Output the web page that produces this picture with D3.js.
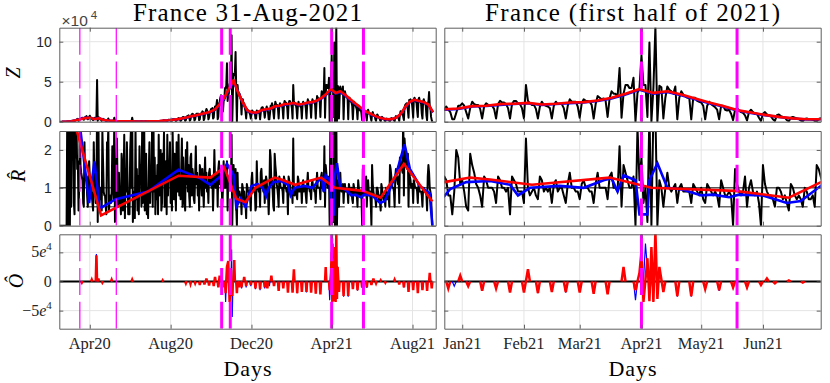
<!DOCTYPE html>
<html><head><meta charset="utf-8">
<script src="https://cdn.jsdelivr.net/npm/d3@7/dist/d3.min.js"></script>
<style>body{margin:0;background:#fff}svg{display:block}</style>
</head><body><svg id="c" width="830" height="383"></svg>
<script>
// ---------------- DATA ----------------
const dailyStart = "2020-02-16"; // first day of daily series (Sunday)
// Daily Z (x1e4), one row per week Sun..Sat
const zDaily = [
0,0,0,0,0,0,0,
0,0,0,0,0.01,0.02,0.03,
0.03,0.02,0.05,0.04,0.08,0.1,0.12,
0.1,0.05,0.15,0.2,0.28,0.3,0.35,
0.1,0.15,0.3,0.35,0.4,0.45,0.5,
0.3,0.25,0.5,0.55,0.6,0.7,0.5,
0.3,0.4,0.6,0.75,0.55,0.5,0.4,
0.3,0.2,0.4,0.45,0.5,0.3,0.35,
5.2,0.1,0.6,0.4,0.3,0.3,0.25,
0.1,0.2,0.35,0.3,0.25,0.2,0.1,
0.05,0.1,0.2,0.4,0.15,0.1,0.08,
0.05,0.05,0.1,0.15,0.1,0.5,0.05,
0.02,0.05,0.08,0.1,0.06,0.05,0.03,
0.02,0.03,0.05,0.06,0.05,0.04,0.02,
0.02,0.03,0.05,0.04,0.05,0.04,0.02,
0.01,0.02,0.05,0.05,0.5,0.04,0.02,
0.01,0.02,0.04,0.05,0.04,0.03,0.02,
0.01,0.02,0.04,0.04,0.05,0.03,0.02,
0.01,0.02,0.04,0.05,0.04,0.04,0.02,
0.02,0.02,0.05,0.06,0.05,0.05,0.03,
0.02,0.03,0.06,0.07,0.06,0.06,0.04,
0.02,0.03,0.08,0.09,0.08,0.09,0.05,
0.03,0.05,0.15,0.18,0.16,0.15,0.1,
0.04,0.07,0.2,0.25,0.22,0.22,0.15,
0.05,0.1,0.28,0.32,0.3,0.3,0.2,
0.06,0.12,0.35,0.4,0.45,0.4,0.3,
0.08,0.15,0.45,0.55,0.6,0.55,0.4,
0.1,0.2,0.6,0.7,0.7,0.8,0.6,
0.12,0.25,0.8,0.9,1.0,0.9,0.8,
0.15,0.3,0.8,1.0,1.0,1.0,1.0,
0.2,0.3,1.0,1.0,1.1,1.3,1.2,
0.2,0.4,1.0,1.3,1.6,1.4,1.2,
0.3,0.5,1.1,1.3,1.6,1.6,1.7,
0.4,0.5,1.5,1.9,1.8,2.0,2.7,
0.3,0.6,2.2,2.5,3.0,3.3,3.2,
1.2,1.3,2.6,2.7,4.2,4.2,4.5,
7.3,2.6,3.3,3.6,4.7,4.9,4.9,
10.8,0.0,3.6,6.0,5.8,6.1,8.7,
3.9,0.0,4.6,3.5,3.3,3.5,3.2,
2.7,0.9,2.8,2.8,2.2,2.3,1.7,
1.3,0.4,1.6,1.5,1.3,1.3,1.1,
0.9,0.4,0.9,1.4,1.3,1.2,1.1,
1.1,0.4,0.4,1.4,1.3,1.3,1.1,
1.1,0.3,1.1,1.7,1.8,1.8,1.5,
1.3,0.5,1.2,1.6,1.9,1.5,1.2,
0.3,0.3,1.1,2.0,2.0,2.3,2.0,
1.2,0.4,1.7,2.5,2.2,2.1,2.1,
1.6,0.4,1.9,2.3,2.1,2.1,2.0,
1.6,0.4,2.2,2.6,2.4,2.4,2.2,
1.7,0.4,2.2,2.6,2.6,2.3,2.2,
1.7,0.4,4.6,2.6,2.3,2.1,2.1,
1.6,0.4,1.9,2.5,2.1,2.0,1.9,
1.7,0.4,2.0,2.5,2.2,2.2,2.2,
1.7,0.4,2.0,2.8,2.5,2.5,2.5,
1.9,0.5,2.3,2.8,2.6,2.6,2.5,
2.1,0.4,2.2,3.2,3.0,2.8,2.9,
2.6,0.6,2.9,3.8,3.5,3.5,3.1,
6.7,0.5,3.5,4.6,4.6,4.2,4.2,
5.5,0.0,3.6,4.2,8.3,4.6,4.6,
0.6,9.9,0.0,4.2,11.9,0.0,4.5,
4.3,0.4,3.0,4.4,4.0,3.8,3.5,
4.4,0.3,3.0,3.8,3.4,3.2,3.0,
3.0,0.3,3.0,3.0,2.6,2.5,2.4,
2.0,0.3,2.0,2.5,2.2,2.0,1.8,
1.5,0.3,2.0,2.0,1.5,1.4,1.5,
1.0,0.2,1.5,1.7,1.4,1.2,1.1,
0.8,0.15,1.2,1.5,1.2,1.0,1.0,
0.5,0.1,1.0,1.2,0.9,0.8,0.7,
0.3,0.1,0.8,0.9,0.7,0.6,0.5,
0.2,0.05,0.5,0.6,0.5,0.4,0.35,
0.15,0.05,0.35,0.4,0.3,0.3,0.25,
0.1,0.05,0.35,0.45,0.4,0.35,0.35,
0.2,0.05,0.5,0.7,0.6,0.6,0.6,
0.4,0.1,0.9,1.3,1.2,1.0,1.0,
0.6,0.2,1.8,2.1,2.2,2.3,2.2,
1.4,0.5,2.7,2.6,2.8,2.5,2.4,
1.6,0.5,2.8,3.0,2.8,2.5,2.4,
1.4,0.6,2.8,3.0,2.6,2.5,2.2,
1.0,0.4,2.5,2.8,2.5,2.3,2.0,
0.8,0.2,2.4,2.4,3.7,2.0,1.8,
0.6,0.2,0.0
];
// Daily R-hat (black), one row per week Sun..Sat
const rDaily = [
0,0,0,0,0,0,0,
0,0,0,0,3,0,3,
1.3,0,3,0.5,3,2,3,
0.6,0.3,3,1.8,2.6,1.5,1.7,
0.4,1.0,3,1.6,1.4,1.3,1.2,
0.6,0.5,2.2,1.2,1.2,1.3,0.8,
0.5,1.2,1.7,1.3,0.8,0.9,0.8,
0.6,0.4,2.2,1.2,1.1,0.6,1.1,
3,0.1,3,0.7,0.7,1.0,0.8,
0.4,2.5,1.7,0.9,0.8,0.8,0.5,
0.3,2.2,2.0,2.6,0.4,0.7,0.8,
0.6,0.9,2.1,1.4,0.7,3,0.1,
0.2,1.2,2.3,0.9,0.5,1.4,0.6,
0.7,0.3,1.9,1.6,0.4,1.1,2.4,
0.2,1.5,0.9,2.2,1.2,0.3,0.8,
0.3,2.0,2.5,1.0,3,0.1,0.5,
0.9,0.2,2.6,0.7,1.5,0.4,1.3,
0.3,2.1,1.1,1.6,0.5,2.5,0.6,
0.8,3,0.4,1.2,1.9,0.3,1.0,
0.2,1.4,2.2,0.6,1.5,0.9,2.6,
0.5,3,0.9,1.8,0.3,1.3,0.7,
1.6,0.3,2.4,0.8,1.4,2.0,0.4,
0.6,1.9,1.2,2.5,0.5,1.1,1.7,
0.3,2.4,0.8,1.6,1.3,2.2,0.6,
1.1,0.4,2.5,1.4,0.7,1.9,1.0,
0.4,2.2,1.6,0.9,2.4,0.8,1.3,
0.7,1.5,2.3,0.5,1.8,1.2,0.6,
0.4,2.0,1.1,2.2,0.9,1.6,0.8,
0.5,1.8,1.9,0.8,1.5,1.3,0.7,
0.6,1.3,2.1,1.1,1.4,0.8,1.2,
0.4,1.6,1.5,1.2,0.8,1.5,1.0,
0.5,1.2,1.8,1.0,1.4,0.9,1.1,
0.6,1.4,1.5,1.1,1.2,1.0,1.3,
0.4,1.1,2.0,1.2,1.0,1.3,1.4,
0.5,1.5,1.7,1.1,1.3,1.0,1.1,
0.5,1.0,1.7,1.0,1.5,1.0,1.1,
1.7,0.4,1.3,1.1,1.3,1.0,1.0,
2.4,0.0,1.2,1.6,1.1,1.1,1.5,
0.5,0.0,1.4,0.7,0.8,0.9,0.8,
0.8,0.3,1.1,1.0,0.7,0.9,0.6,
0.6,0.2,1.1,1.0,0.9,0.9,0.8,
0.7,0.4,1.2,1.4,1.0,0.9,0.9,
1.0,0.4,0.5,1.7,1.0,1.0,0.9,
1.0,0.5,1.4,1.5,1.1,1.0,0.9,
1.2,0.6,1.1,1.3,1.2,0.8,0.8,
0.3,0.9,2.0,1.8,1.1,1.2,0.9,
0.5,0.4,1.9,1.6,1.4,1.1,1.0,
0.8,0.5,1.3,1.2,1.0,1.0,1.0,
0.9,0.6,1.3,1.2,1.0,1.0,0.9,
1.0,0.3,1.3,1.2,1.1,0.9,0.9,
0.9,0.6,2.3,1.0,0.8,0.9,1.0,
0.8,0.7,1.3,1.2,0.9,1.0,0.9,
1.0,0.6,1.1,1.2,0.9,1.0,1.0,
0.8,0.6,1.1,1.4,1.0,1.0,0.9,
0.9,0.7,1.1,1.2,1.0,1.0,0.9,
0.9,0.6,1.1,1.4,1.0,1.0,1.0,
1.0,0.7,1.3,1.4,1.0,1.0,0.9,
2.1,0.5,1.6,1.4,1.2,1.0,1.0,
1.3,0.0,2.6,1.2,1.8,0.6,1.0,
0.1,3,0.0,3,3,0.0,1.2,
1.0,0.5,1.0,1.4,1.0,0.9,1.0,
1.1,0.6,1.0,1.1,0.9,0.9,0.9,
0.9,0.6,1.1,1.0,0.9,0.8,1.0,
0.7,0.6,1.1,1.0,0.9,0.8,0.9,
0.8,0.5,1.2,1.0,0.8,0.8,0.9,
0.8,0.0,1.5,1.1,0.9,0.8,0.9,
1.3,0.5,1.0,1.2,0.9,0.8,0.9,
0.6,0.0,1.6,1.1,0.9,0.8,0.8,
0.7,0.5,1.0,1.0,0.9,0.7,0.8,
0.6,0.4,1.1,1.0,0.8,0.7,0.8,
0.7,0.5,1.0,0.9,0.7,0.7,0.8,
0.5,1.6,1.5,1.3,1.1,1.0,1.0,
0.9,0.5,1.3,1.5,1.3,1.2,1.1,
1.3,0.6,1.8,1.7,1.5,1.5,1.4,
3,0.8,2.3,2.0,1.8,1.6,1.5,
1.9,0.5,1.5,1.3,1.2,1.0,1.0,
1.1,0.6,1.2,1.1,1.0,1.0,1.0,
0.9,0.6,1.1,1.0,0.9,0.9,0.9,
0.8,0.5,1.0,1.0,0.9,0.9,0.9,
0.8,0.4,1.3,1.6,1.4,1.0,0.9,
0.8,0.3,0.0
];
// Weekly smoothed Z (x1e4), red and blue estimates, first value on this date
const weeklyStart = "2020-02-19";
const zRedWeekly = [0,0.01,0.05,0.18,0.32,0.45,0.48,0.33,0.42,0.22,0.15,0.12,0.06,0.04,0.04,0.06,0.03,0.03,0.03,0.04,
0.05,0.07,0.13,0.18,0.25,0.32,0.42,0.55,0.7,0.8,0.95,1.1,1.25,1.55,2.2,3.0,4.1,5.2,3.6,2.4,
1.4,1.15,1.15,1.45,1.55,1.65,1.95,2.0,2.2,2.25,2.35,2.15,2.25,2.4,2.45,2.65,3.0,3.5,4.1,3.6,
3.8,3.4,2.9,2.4,1.95,1.45,1.15,0.85,0.6,0.42,0.3,0.32,0.5,0.95,1.85,2.5,2.75,2.6,2.45,2.15,1.2];
const zBlueWeekly = [0,0.01,0.05,0.2,0.35,0.48,0.45,0.35,0.45,0.2,0.15,0.1,0.06,0.04,0.04,0.05,0.03,0.03,0.03,0.04,
0.05,0.07,0.12,0.17,0.24,0.3,0.4,0.52,0.68,0.78,0.92,1.05,1.2,1.5,2.1,2.9,4.0,5.0,3.7,2.3,
1.35,1.1,1.1,1.4,1.5,1.6,1.9,1.95,2.1,2.2,2.3,2.1,2.2,2.3,2.4,2.6,2.9,3.4,4.0,3.5,
3.7,3.3,2.8,2.3,1.9,1.4,1.1,0.8,0.58,0.4,0.28,0.3,0.48,0.9,1.8,2.45,2.7,2.55,2.4,2.1,1.15];
// R-hat red (piecewise) and blue estimates
const rRedDates = ["2020-03-01","2020-04-18","2020-08-13","2020-09-30","2020-10-21","2020-11-08","2020-11-22","2020-12-07","2020-12-23","2021-01-05","2021-01-15","2021-02-05","2021-03-16","2021-04-06","2021-05-18","2021-06-14","2021-07-19","2021-08-31"];
const rRedValues = [3.2,0.27,1.32,1.27,1.54,0.71,0.62,1.0,1.15,1.27,1.22,1.08,1.27,1.0,0.92,0.74,1.63,0.64];
const rBlueDates = ["2020-03-08","2020-03-18","2020-03-31","2020-04-08","2020-04-16","2020-05-10","2020-06-28","2020-08-13","2020-09-15","2020-09-30","2020-10-15","2020-10-25","2020-11-04","2020-11-08","2020-11-15","2020-11-22","2020-12-01","2020-12-10","2020-12-18","2020-12-23","2020-12-26","2021-01-03","2021-01-15","2021-01-25","2021-01-29","2021-02-04","2021-02-19","2021-03-03","2021-03-13","2021-03-17","2021-03-20","2021-03-23","2021-03-29","2021-03-31","2021-04-04","2021-04-05","2021-04-09","2021-04-14","2021-04-22","2021-05-01","2021-05-07","2021-05-15","2021-05-20","2021-06-01","2021-06-13","2021-06-20","2021-06-30","2021-07-08","2021-07-20","2021-07-28","2021-08-12","2021-08-27","2021-08-31"];
const rBlueValues = [3.5,2.5,0.6,1.7,0.45,0.7,0.9,1.48,1.25,1.08,1.3,1.63,1.35,0.5,0.72,0.5,1.05,1.1,1.0,0.78,0.97,1.15,1.18,1.08,0.8,1.0,1.05,1.0,1.2,1.25,0.9,1.33,1.2,0.3,0.3,1.2,1.65,1.0,0.95,0.8,0.82,0.75,0.82,0.8,0.6,0.65,1.05,1.4,2.15,1.5,1.05,0.85,0.0];
// R reference lines
const rUnity = 1, rHalf = 0.5;
const rHalfSpan = ["2020-03-26","2021-08-13"];
// O-hat outlier estimates (x1e4)
const oRedDates = ["2020-03-20","2020-04-04","2020-04-11","2020-04-14","2020-04-20","2020-05-04","2020-06-04","2020-07-20","2020-08-24","2020-08-31","2020-09-07","2020-09-14","2020-09-21","2020-09-24","2020-09-28","2020-10-05","2020-10-07","2020-10-12","2020-10-14","2020-10-19","2020-10-23","2020-10-25","2020-10-27","2020-10-29","2020-10-31","2020-11-02","2020-11-05","2020-11-09","2020-11-12","2020-11-16","2020-11-20","2020-11-23","2020-11-30","2020-12-07","2020-12-14","2020-12-21","2020-12-25","2020-12-31","2021-01-04","2021-01-11","2021-01-18","2021-01-25","2021-02-01","2021-02-03","2021-02-08","2021-02-15","2021-02-22","2021-03-01","2021-03-08","2021-03-15","2021-03-23","2021-03-29","2021-03-31","2021-04-01","2021-04-02","2021-04-04","2021-04-05","2021-04-06","2021-04-07","2021-04-08","2021-04-09","2021-04-10","2021-04-12","2021-04-19","2021-04-26","2021-05-03","2021-05-10","2021-05-17","2021-05-24","2021-05-31","2021-06-03","2021-06-07","2021-06-14","2021-06-21","2021-07-05","2021-07-12","2021-07-19","2021-07-26","2021-08-02","2021-08-09","2021-08-16","2021-08-23","2021-08-27","2021-08-30"];
const oRedValues = [-0.2,0.3,4.5,0.5,-0.2,0.3,0.3,0.2,-0.3,-0.4,-0.3,-0.6,-0.5,0.5,-0.7,-0.8,0.8,-1.0,1.0,-1.0,-2.0,2.5,3.5,-3.5,2.0,-2.5,3.7,-2.0,-1.0,-1.0,0.8,-0.8,-0.6,-1.2,-1.3,-1.0,-1.2,1.0,-0.8,-1.6,-1.2,-1.9,-1.9,2.1,-2.0,-1.8,-1.8,-1.9,-2.1,-2.2,2.5,-1.5,1.5,5.1,-3.5,4.0,-3.4,5.9,-3.5,8.5,-3.0,2.5,-1.8,-2.5,-2.5,-1.3,-1.5,-1.0,-1.0,-0.6,0.5,-0.3,0.2,-0.2,0.3,-0.5,-1.0,-1.8,-1.5,-2.0,-1.5,-1.6,1.5,-1.2];
const oBlueDates = ["2020-04-11","2020-05-04","2020-10-23","2020-11-01","2020-11-02","2020-11-09","2020-11-16","2020-11-23","2020-11-30","2020-12-07","2020-12-14","2020-12-21","2020-12-28","2021-01-04","2021-01-11","2021-01-18","2021-01-25","2021-02-01","2021-02-08","2021-02-15","2021-02-22","2021-03-01","2021-03-08","2021-03-15","2021-03-29","2021-04-03","2021-04-05","2021-04-19","2021-04-26","2021-05-03","2021-05-10","2021-05-17","2021-05-24","2021-07-19","2021-07-26","2021-08-02","2021-08-09","2021-08-16","2021-08-23"];
const oBlueValues = [4.7,0.2,-3.5,5.5,-6.1,-1.5,-1.2,-1.0,-0.8,-1.3,-1.5,-1.2,-0.8,-0.6,-1.5,-1.0,-1.8,-1.8,-2.0,-1.6,-1.9,-1.7,-2.0,-2.0,-3.2,6.5,-2.0,-2.6,-2.6,-1.2,-1.6,-1.1,-1.1,-1.0,-1.5,-1.3,-1.8,-1.4,-1.5];
// Intervention dates (vertical magenta lines)
const eventsThin = ["2020-03-17","2020-05-11"];
const eventsThick = ["2020-10-17","2020-10-30","2021-04-01","2021-05-19"];
const eventsRightPanel = ["2021-04-01","2021-05-19"];
// Axes
const leftDomain = ["2020-02-15","2021-09-05"];
const rightDomain = ["2020-12-23","2021-06-30"];
const leftTickDates = ["2020-04-01","2020-08-01","2020-12-01","2021-04-01","2021-08-01"];
const leftTickLabels = ["Apr20","Aug20","Dec20","Apr21","Aug21"];
const rightTickDates = ["2021-01-01","2021-02-01","2021-03-01","2021-04-01","2021-05-01","2021-06-01"];
const rightTickLabels = ["Jan21","Feb21","Mar21","Apr21","May21","Jun21"];
const zDomain = [0, 11.75], zTicks = [0,5,10], zTickLabels = ["0","5","10"];
const rDomain = [0, 2.5], rTicks = [0,1,2], rTickLabels = ["0","1","2"];
const oDomain = [-8.1, 8.1], oTicks = [-5,0,5], oTickLabels = [["\u22125","e","4"],["0","",""],["5","e","4"]];
const titles = ["France 31-Aug-2021","France (first half of 2021)"];

// ---------------- DRAW ----------------
const parse = d3.utcParse("%Y-%m-%d");
const DAY = 864e5;
const d0 = parse(dailyStart), w0 = parse(weeklyStart);
const zBlack = zDaily.map((v,i)=>({d:new Date(+d0+i*DAY), v}));
const rBlack = rDaily.map((v,i)=>({d:new Date(+d0+i*DAY), v}));
const zRed = zRedWeekly.map((v,i)=>({d:new Date(+w0+i*7*DAY), v}));
const zBlue = zBlueWeekly.map((v,i)=>({d:new Date(+w0+i*7*DAY), v}));
const rRed = rRedDates.map((s,i)=>({d:parse(s), v:rRedValues[i]}));
const rBlue = rBlueDates.map((s,i)=>({d:parse(s), v:rBlueValues[i]}));
const lastDay = zBlack[zBlack.length-1].d;

function spikes(dates, vals){
  const ev = dates.map((s,i)=>({d:parse(s), v:vals[i]})).sort((a,b)=>a.d-b.d);
  const out=[]; let cur=null;
  ev.forEach((e,i)=>{
    const p=ev[i-1], n=ev[i+1];
    if(!p || (e.d-p.d)>2*DAY){ cur=[{d:new Date(+e.d-DAY),v:0}]; out.push(cur); }
    cur.push(e);
    if(!n || (n.d-e.d)>2*DAY){ cur.push({d:new Date(+e.d+DAY),v:0}); }
  });
  return out;
}
const oRedPaths = spikes(oRedDates, oRedValues);
const oBluePaths = spikes(oBlueDates, oBlueValues);

const svg = d3.select("#c");
const cols = [
  {x0:59.3, x1:435.7, dom:leftDomain, ticks:leftTickDates, labels:leftTickLabels, left:true},
  {x0:444.3, x1:820.7, dom:rightDomain, ticks:rightTickDates, labels:rightTickLabels, left:false}
];
const rows = [
  {key:"Z", y0:27.7, y1:121.7, dom:zDomain, ticks:zTicks},
  {key:"R", y0:131, y1:225.7, dom:rDomain, ticks:rTicks},
  {key:"O", y0:234.3, y1:328.7, dom:oDomain, ticks:oTicks}
];
const gridC = "#e4e4e4", axC = "#5e5e5e", txtC = "#262626";
const serif = "'Liberation Serif','Times New Roman',serif";
const sans = "'Liberation Sans',Arial,sans-serif";
let clipId = 0;

cols.forEach((c,ci)=>{
  const x = d3.scaleUtc().domain(c.dom.map(parse)).range([c.x0,c.x1]);
  const tickD = c.ticks.map(parse);
  rows.forEach((r,ri)=>{
    const y = d3.scaleLinear().domain(r.dom).range([r.y1,r.y0]);
    const g = svg.append("g");
    const id = "clip"+(clipId++);
    svg.append("clipPath").attr("id",id).append("rect")
      .attr("x",c.x0).attr("y",r.y0).attr("width",c.x1-c.x0).attr("height",r.y1-r.y0);
    // grid
    g.selectAll(null).data(tickD).enter().append("line")
      .attr("x1",d=>x(d)).attr("x2",d=>x(d)).attr("y1",r.y0).attr("y2",r.y1)
      .attr("stroke",gridC).attr("stroke-width",1);
    g.selectAll(null).data(r.ticks).enter().append("line")
      .attr("x1",c.x0).attr("x2",c.x1).attr("y1",d=>y(d)).attr("y2",d=>y(d))
      .attr("stroke",gridC).attr("stroke-width",1);
    const pg = g.append("g").attr("clip-path",`url(#${id})`);
    const line = d3.line().x(d=>x(d.d)).y(d=>y(d.v));
    if(r.key==="Z"){
      pg.append("path").attr("d",line(zBlack)).attr("fill","none").attr("stroke","#000").attr("stroke-width",2).attr("stroke-linejoin","round");
      pg.append("path").attr("d",line(zBlue)).attr("fill","none").attr("stroke","#0000ff").attr("stroke-width",2.5);
      pg.append("path").attr("d",line(zRed)).attr("fill","none").attr("stroke","#ff0000").attr("stroke-width",2.6).attr("stroke-linejoin","round");
    } else if(r.key==="R"){
      pg.append("line").attr("x1",c.x0).attr("x2",c.x1).attr("y1",y(rUnity)).attr("y2",y(rUnity))
        .attr("stroke","#555").attr("stroke-width",1.5);
      const hs = rHalfSpan.map(parse);
      pg.append("line").attr("x1",x(hs[0])).attr("x2",x(hs[1])).attr("y1",y(rHalf)).attr("y2",y(rHalf))
        .attr("stroke","#6a6a6a").attr("stroke-width",1.4).attr("stroke-dasharray","12,7");
      pg.append("path").attr("d",line(rBlack)).attr("fill","none").attr("stroke","#000").attr("stroke-width",2).attr("stroke-linejoin","round");
      pg.append("path").attr("d",line(rBlue)).attr("fill","none").attr("stroke","#0000ff").attr("stroke-width",2.6);
      pg.append("path").attr("d",line(rRed)).attr("fill","none").attr("stroke","#ff0000").attr("stroke-width",2.6);
    } else {
      pg.append("line").attr("x1",x(d0)).attr("x2",x(lastDay)).attr("y1",y(0)).attr("y2",y(0))
        .attr("stroke","#000").attr("stroke-width",2);
      oBluePaths.forEach(p=>pg.append("path").attr("d",line(p)).attr("fill","none").attr("stroke","#0000ff").attr("stroke-width",1.2));
      oRedPaths.forEach(p=>pg.append("path").attr("d",line(p)).attr("fill","none").attr("stroke","#ff0000").attr("stroke-width",2.5));
    }
    // vertical event lines
    const thick = c.left ? eventsThick : eventsRightPanel;
    pg.selectAll(null).data(thick.map(parse)).enter().append("line")
      .attr("x1",d=>x(d)).attr("x2",d=>x(d)).attr("y1",r.y0).attr("y2",r.y1)
      .attr("stroke","#ff00ff").attr("stroke-width",3).attr("stroke-dasharray","27,6.7");
    if(c.left){
      pg.selectAll(null).data(eventsThin.map(parse)).enter().append("line")
        .attr("x1",d=>x(d)).attr("x2",d=>x(d)).attr("y1",r.y0).attr("y2",r.y1)
        .attr("stroke","#ff00ff").attr("stroke-width",1.2).attr("stroke-dasharray","27,6.7");
    }
    // axes (ticks inside, box)
    const tl = 4;
    g.append("g").attr("transform",`translate(0,${r.y1})`).call(d3.axisBottom(x).tickValues(tickD).tickSize(-tl).tickSizeOuter(0).tickFormat(""));
    g.append("g").attr("transform",`translate(0,${r.y0})`).call(d3.axisTop(x).tickValues(tickD).tickSize(-tl).tickSizeOuter(0).tickFormat(""));
    g.append("g").attr("transform",`translate(${c.x0},0)`).call(d3.axisLeft(y).tickValues(r.ticks).tickSize(-tl).tickSizeOuter(0).tickFormat(""));
    g.append("g").attr("transform",`translate(${c.x1},0)`).call(d3.axisRight(y).tickValues(r.ticks).tickSize(-tl).tickSizeOuter(0).tickFormat(""));
    g.selectAll(".domain, .tick line").attr("stroke",axC).attr("stroke-width",1);
    // y tick labels
    if(c.left){
      if(r.key==="Z" || r.key==="R"){
        const labs = r.key==="Z" ? zTickLabels : rTickLabels;
        g.selectAll(null).data(r.ticks).enter().append("text")
          .attr("x",c.x0-7.5).attr("y",d=>y(d)+5).attr("text-anchor","end")
          .attr("font-family",sans).attr("font-size",14).attr("fill",txtC)
          .text((d,i)=>labs[i]);
      } else {
        r.ticks.forEach((t,i)=>{
          const L = oTickLabels[i];
          const tx = g.append("text").attr("x",c.x0-7.5).attr("y",y(t)+5).attr("text-anchor","end")
            .attr("font-family",serif).attr("font-size",16).attr("fill",txtC);
          tx.append("tspan").text(L[0]);
          if(L[1]){
            tx.append("tspan").attr("font-style","italic").text(L[1]);
            tx.append("tspan").attr("font-size",11).attr("dy",-7).text(L[2]);
          }
        });
      }
    }
    // x tick labels
    if(r.key==="O"){
      g.selectAll(null).data(tickD).enter().append("text")
        .attr("x",d=>x(d)).attr("y",349).attr("text-anchor","middle")
        .attr("font-family",serif).attr("font-size",16.5).attr("fill",txtC)
        .text((d,i)=>c.labels[i]);
    }
  });
  const cx = (c.x0+c.x1)/2;
  svg.append("text").attr("x",cx).attr("y",21).attr("text-anchor","middle")
    .attr("font-family",serif).attr("font-size",25).attr("fill","#000")
    .attr("textLength", ci===0?229:295).text(titles[ci]);
  svg.append("text").attr("x",cx).attr("y",376).attr("text-anchor","middle")
    .attr("font-family",serif).attr("font-size",22).attr("fill","#000")
    .attr("textLength",48).text("Days");
});
// exponent label
const ex = svg.append("text").attr("x",61.5).attr("y",25.5).attr("font-family",sans).attr("font-size",15.5).attr("fill","#444");
ex.append("tspan").text("\u00d710");
ex.append("tspan").attr("font-size",11.5).attr("dy",-7).attr("dx",3).text("4");
// y labels
const ylabs = [{t:"Z",x:20,y:73},{t:"R\u0302",x:25,y:176},{t:"O\u0302",x:23,y:281}];
ylabs.forEach(l=>{
  svg.append("text").attr("transform",`translate(${l.x},${l.y}) rotate(-90)`)
    .attr("text-anchor","middle").attr("font-family",serif).attr("font-style","italic")
    .attr("font-size",20).attr("fill","#000").text(l.t);
});
</script>
</body></html>
